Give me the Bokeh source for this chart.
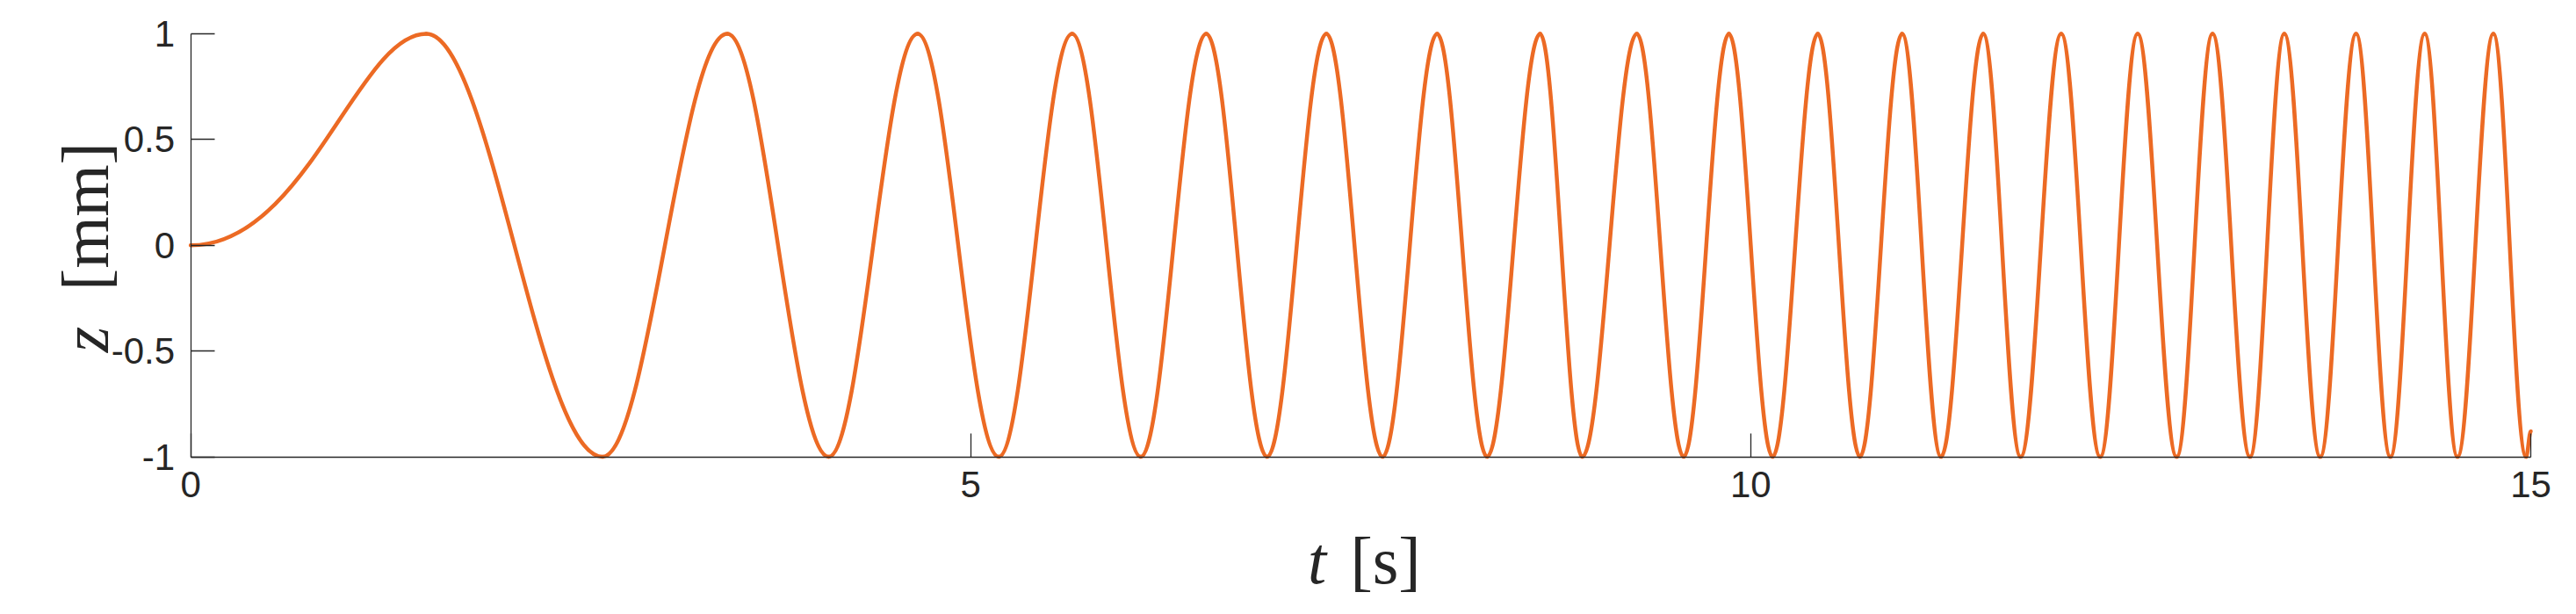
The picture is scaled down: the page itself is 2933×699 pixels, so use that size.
import numpy as np
from bokeh.plotting import figure
from bokeh.models import Range1d, FixedTicker, Label
from bokeh.embed import file_html
from bokeh.resources import INLINE

# ---- data ----
t_start, z_start = 0.0, 0.0
peak_t = [1.51, 3.44, 4.66, 5.65, 6.51, 7.28, 7.99, 8.65, 9.27, 9.86,
          10.43, 10.97, 11.49, 11.99, 12.48, 12.96, 13.42, 13.88, 14.32, 14.76]
trough_t = [2.64, 4.09, 5.18, 6.09, 6.90, 7.64, 8.31, 8.92, 9.57, 10.14,
            10.70, 11.22, 11.73, 12.24, 12.73, 13.20, 13.65, 14.10, 14.53, 14.97]
peak_z = 1.0
trough_z = -1.0
t_end, z_end = 15.0, -0.88
x_ticks = [0, 5, 10, 15]
y_ticks = [-1, -0.5, 0, 0.5, 1]
y_tick_labels = ["-1", "-0.5", "0", "0.5", "1"]

# ---- build the extrema sequence and cubic segments between them ----
ext_t = [t_start]
ext_z = [z_start]
for tp, tt in zip(peak_t, trough_t):
    ext_t += [tp, tt]
    ext_z += [peak_z, trough_z]
ext_t.append(t_end)
ext_z.append(z_end)
ext_t = np.array(ext_t)
ext_z = np.array(ext_z)

x0, x1 = ext_t[:-1], ext_t[1:]
y0, y1 = ext_z[:-1], ext_z[1:]
dt = x1 - x0
c = 0.364
cx0 = x0 + c * dt
cx1 = x1 - c * dt
cy0 = y0.copy()
cy1 = y1.copy()
cx0[0] = x0[0] + 0.49 * dt[0]
cx1[0] = x0[0] + 0.71 * dt[0]

LINE = "#EC6A24"
AX = "#262626"

W, H = 2917, 683
# data-space extent of the whole canvas (axes are pinned inside it)
X_LO, X_HI = -1.2194, 15.2025
Y_LO, Y_HI = -1.6791, 1.1578

p = figure(width=W, height=H, output_backend="svg", toolbar_location=None,
           x_range=Range1d(X_LO, X_HI), y_range=Range1d(Y_LO, Y_HI),
           min_border=0, background_fill_color="white",
           border_fill_color="white")
p.outline_line_color = None
p.grid.visible = False

p.bezier(x0=x0, y0=y0, x1=x1, y1=y1, cx0=cx0, cy0=cy0, cx1=cx1, cy1=cy1,
         line_color=LINE, line_width=4.5, line_cap="round")

xa, ya = p.xaxis[0], p.yaxis[0]
xa.fixed_location = y_ticks[0]
xa.bounds = (x_ticks[0], x_ticks[-1])
ya.fixed_location = x_ticks[0]
ya.bounds = (y_ticks[0], y_ticks[-1])

for ax in (xa, ya):
    ax.axis_line_color = AX
    ax.axis_line_width = 1.3
    ax.major_tick_line_color = AX
    ax.major_tick_line_width = 1.3
    ax.major_tick_in = 27
    ax.major_tick_out = 0
    ax.minor_tick_line_color = None
    ax.major_label_text_font = "Liberation Sans"
    ax.major_label_text_font_size = "42px"
    ax.major_label_text_color = AX

xa.ticker = FixedTicker(ticks=x_ticks)
xa.major_label_standoff = 17
ya.ticker = FixedTicker(ticks=y_ticks)
ya.major_label_overrides = {float(v): s for v, s in zip(y_ticks, y_tick_labels)}
ya.major_label_standoff = 18

# axis labels: italic variable + upright unit (screen px from frame's bottom-left)
FS = "76px"
FONT = "Liberation Serif"
p.add_layout(Label(x=96, y=297, x_units="screen", y_units="screen", text="z",
                   angle=np.pi / 2, text_align="center", text_baseline="alphabetic",
                   text_font=FONT, text_font_style="italic",
                   text_font_size=FS, text_color=AX))
p.add_layout(Label(x=96, y=437, x_units="screen", y_units="screen", text="[mm]",
                   angle=np.pi / 2, text_align="center", text_baseline="alphabetic",
                   text_font=FONT, text_font_size=FS, text_color=AX))
p.add_layout(Label(x=1499, y=46, x_units="screen", y_units="screen", text="t",
                   text_align="center", text_baseline="alphabetic",
                   text_font=FONT, text_font_style="italic",
                   text_font_size=FS, text_color=AX))
p.add_layout(Label(x=1577, y=46, x_units="screen", y_units="screen", text="[s]",
                   text_align="center", text_baseline="alphabetic",
                   text_font=FONT, text_font_size=FS, text_color=AX))

open("out.html", "w").write(file_html(p, INLINE))
